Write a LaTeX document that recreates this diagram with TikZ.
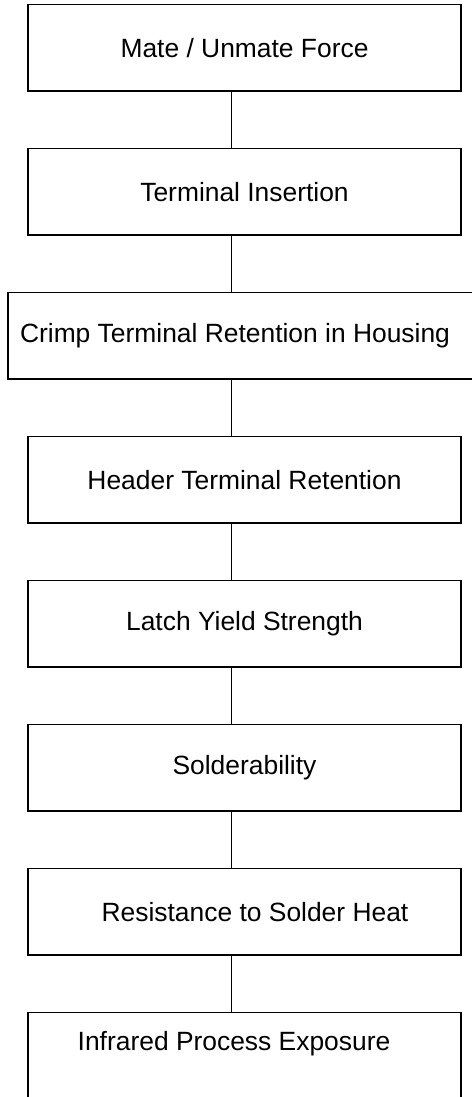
\documentclass[tikz,border=0pt]{standalone}
\usepackage{fontspec}
\setmainfont{Liberation Sans}
\begin{document}
\begin{tikzpicture}[node distance=144pt, auto, thick]
    % Styles
    \tikzstyle{block} = [draw, rectangle, line width=1.6pt, minimum height=86.5pt, minimum width=433pt, inner sep=0pt, font=\fontsize{26.4}{30}\selectfont]
    \tikzstyle{link} = [line width=0.8pt]

    \useasboundingbox (0,0) rectangle (471pt,-1097pt);

    % Nodes
    \node [block] (mate) at (244.5pt,-47.75pt) {Mate / Unmate Force};
    \node [block, below of=mate] (insert) {Terminal Insertion};
    \node [block, below of=insert, minimum width=473pt] (crimp) {Crimp Terminal Retention in Housing\hspace*{19pt}};
    \node [block, below of=crimp] (header) {Header Terminal Retention};
    \node [block, below of=header] (latch) {Latch Yield Strength};
    \node [block, below of=latch] (solder) {Solderability};
    \node [block, below of=solder] (heat) {\hspace*{21pt}Resistance to Solder Heat};
    \node [block, below of=heat, text depth=29pt] (infrared) {Infrared Process Exposure\hspace*{21pt}};
    \coordinate (spine) at (231pt,0pt);

    % Connections
    \draw [link] (mate.south -| spine) -- (insert.north -| spine);
    \draw [link] (insert.south -| spine) -- (crimp.north -| spine);
    \draw [link] (crimp.south -| spine) -- (header.north -| spine);
    \draw [link] (header.south -| spine) -- (latch.north -| spine);
    \draw [link] (latch.south -| spine) -- (solder.north -| spine);
    \draw [link] (solder.south -| spine) -- (heat.north -| spine);
    \draw [link] (heat.south -| spine) -- (infrared.north -| spine);
\end{tikzpicture}
\end{document}
